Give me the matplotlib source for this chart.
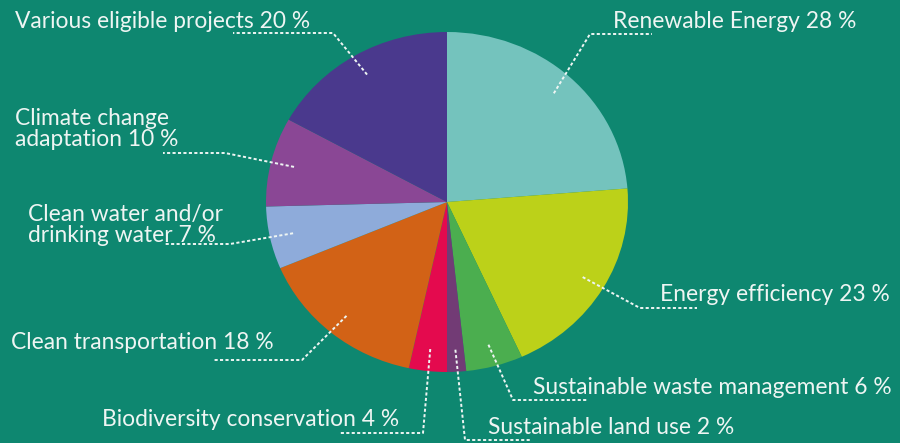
import numpy as np
import matplotlib.pyplot as plt

labels = ["Renewable Energy", "Energy efficiency", "Sustainable waste management",
          "Sustainable land use", "Biodiversity conservation", "Clean transportation",
          "Clean water and/or\ndrinking water", "Climate change\nadaptation",
          "Various eligible projects"]
shares = [28, 23, 6, 2, 4, 18, 7, 10, 20]
colors = ["#74C3BD", "#BCD119", "#4BAE4F", "#723B75", "#E40A4E",
          "#D26216", "#8EABDA", "#8A4795", "#4A398D"]

# label layout in pixels: (text x, first baseline y, elbow x, elbow y, end x)
layout = [
    (613, 28, 590, 34, 652),
    (660, 301, 640, 308, 697),
    (533, 394, 513, 400, 588),
    (488, 434, 465, 440, 532),
    (102, 426, 423, 433, 340),
    (11, 349, 302, 360, 213),
    (28, 221, 230, 244, 165),
    (15, 125, 225, 153, 163),
    (15, 28, 333, 33, 233),
]

BG = "#0E8770"
TXT = "#EEF5F3"
W, H = 900, 443
cx, cy, rx, ry = 447, 202, 181, 170

fig = plt.figure(figsize=(9, 4.43), dpi=100)
fig.patch.set_facecolor(BG)

pax = fig.add_axes([(cx - rx) / W, (H - cy - ry) / H, 2 * rx / W, 2 * ry / H])
wedges, _ = pax.pie(shares, colors=colors, startangle=90, counterclock=False,
                    radius=1, wedgeprops=dict(linewidth=0))
pax.set_aspect("auto")
pax.set_xlim(-1, 1)
pax.set_ylim(-1, 1)
pax.axis("off")

ax = fig.add_axes([0, 0, 1, 1])
ax.set_xlim(0, W)
ax.set_ylim(H, 0)
ax.axis("off")
ax.patch.set_alpha(0)

for w, lab, val, (tx, ty, ex, ey, endx) in zip(wedges, labels, shares, layout):
    mid = np.deg2rad((w.theta1 + w.theta2) / 2)
    px = cx + 0.87 * rx * np.cos(mid)
    py = cy - 0.87 * ry * np.sin(mid)
    ax.plot([px, ex, endx], [py, ey, ey], color=TXT, lw=1.4,
            linestyle=(0, (1.6, 1.2)), solid_capstyle="butt")
    lines = (lab + " %d %%" % val).split("\n")
    for i, line in enumerate(lines):
        ax.text(tx, ty + i * 21, line, color=TXT, fontsize=16.4,
                family="Lato", va="baseline", ha="left")

fig.savefig("out.png", dpi=100, facecolor=BG)
